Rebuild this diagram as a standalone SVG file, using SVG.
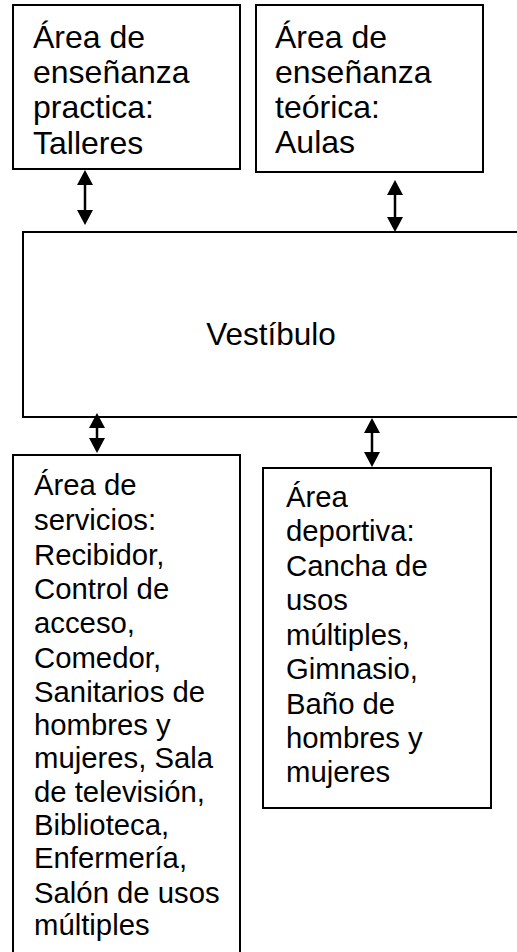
<svg xmlns="http://www.w3.org/2000/svg" width="517" height="952" viewBox="0 0 517 952">
<defs>
<style>
.box{fill:#fff;stroke:#000;stroke-width:2}
.t{font-family:"Liberation Sans",Arial,sans-serif;font-size:32px;fill:#000}
.s{font-family:"Liberation Sans",Arial,sans-serif;font-size:29.3px;fill:#000}
.c{stroke:#000;stroke-width:2.5;fill:none;marker-start:url(#ah);marker-end:url(#ah)}
</style>
<marker id="ah" markerUnits="userSpaceOnUse" markerWidth="16" markerHeight="17" refX="0" refY="8" orient="auto-start-reverse" viewBox="0 0 16 16">
<path d="M0,0 L15,8 L0,16 z" fill="#000"/>
</marker>
</defs>
<rect width="517" height="952" fill="#fff"/>
<g id="practica">
<rect class="box" x="13" y="5" width="227" height="164"/>
<text class="t"><tspan x="33" y="48">Área de</tspan><tspan x="33" y="83">enseñanza</tspan><tspan x="33" y="118">practica:</tspan><tspan x="33" y="154">Talleres</tspan></text>
</g>
<g id="teorica">
<rect class="box" x="256" y="5" width="227" height="167"/>
<text class="t"><tspan x="275" y="48">Área de</tspan><tspan x="275" y="83">enseñanza</tspan><tspan x="275" y="118">teórica:</tspan><tspan x="275" y="153">Aulas</tspan></text>
</g>
<g id="vestibulo">
<rect class="box" x="23" y="232" width="510" height="185"/>
<text class="t" x="271" y="345" text-anchor="middle" style="font-size:31.5px">Vestíbulo</text>
</g>
<g id="servicios">
<rect class="box" x="13" y="455" width="227" height="520"/>
<text class="s"><tspan x="34" y="495">Área de</tspan><tspan x="34" y="530">servicios:</tspan><tspan x="34" y="565">Recibidor,</tspan><tspan x="34" y="599">Control de</tspan><tspan x="34" y="633">acceso,</tspan><tspan x="34" y="668">Comedor,</tspan><tspan x="34" y="702">Sanitarios de</tspan><tspan x="34" y="735">hombres y</tspan><tspan x="34" y="768">mujeres, Sala</tspan><tspan x="34" y="802">de televisión,</tspan><tspan x="34" y="835">Biblioteca,</tspan><tspan x="34" y="868">Enfermería,</tspan><tspan x="34" y="903">Salón de usos</tspan><tspan x="34" y="935">múltiples</tspan></text>
</g>
<g id="deportiva">
<rect class="box" x="263" y="468" width="228" height="340"/>
<text class="s"><tspan x="286" y="507">Área</tspan><tspan x="286" y="541">deportiva:</tspan><tspan x="286" y="576">Cancha de</tspan><tspan x="286" y="610">usos</tspan><tspan x="286" y="645">múltiples,</tspan><tspan x="286" y="679">Gimnasio,</tspan><tspan x="286" y="714">Baño de</tspan><tspan x="286" y="748">hombres y</tspan><tspan x="286" y="782">mujeres</tspan></text>
</g>
<g id="connectors">
<line class="c" x1="85" y1="185" x2="85" y2="210"/>
<line class="c" x1="395" y1="195" x2="395" y2="217"/>
<line class="c" x1="97" y1="428" x2="97" y2="438"/>
<line class="c" x1="372" y1="433" x2="372" y2="452"/>
</g>
</svg>
